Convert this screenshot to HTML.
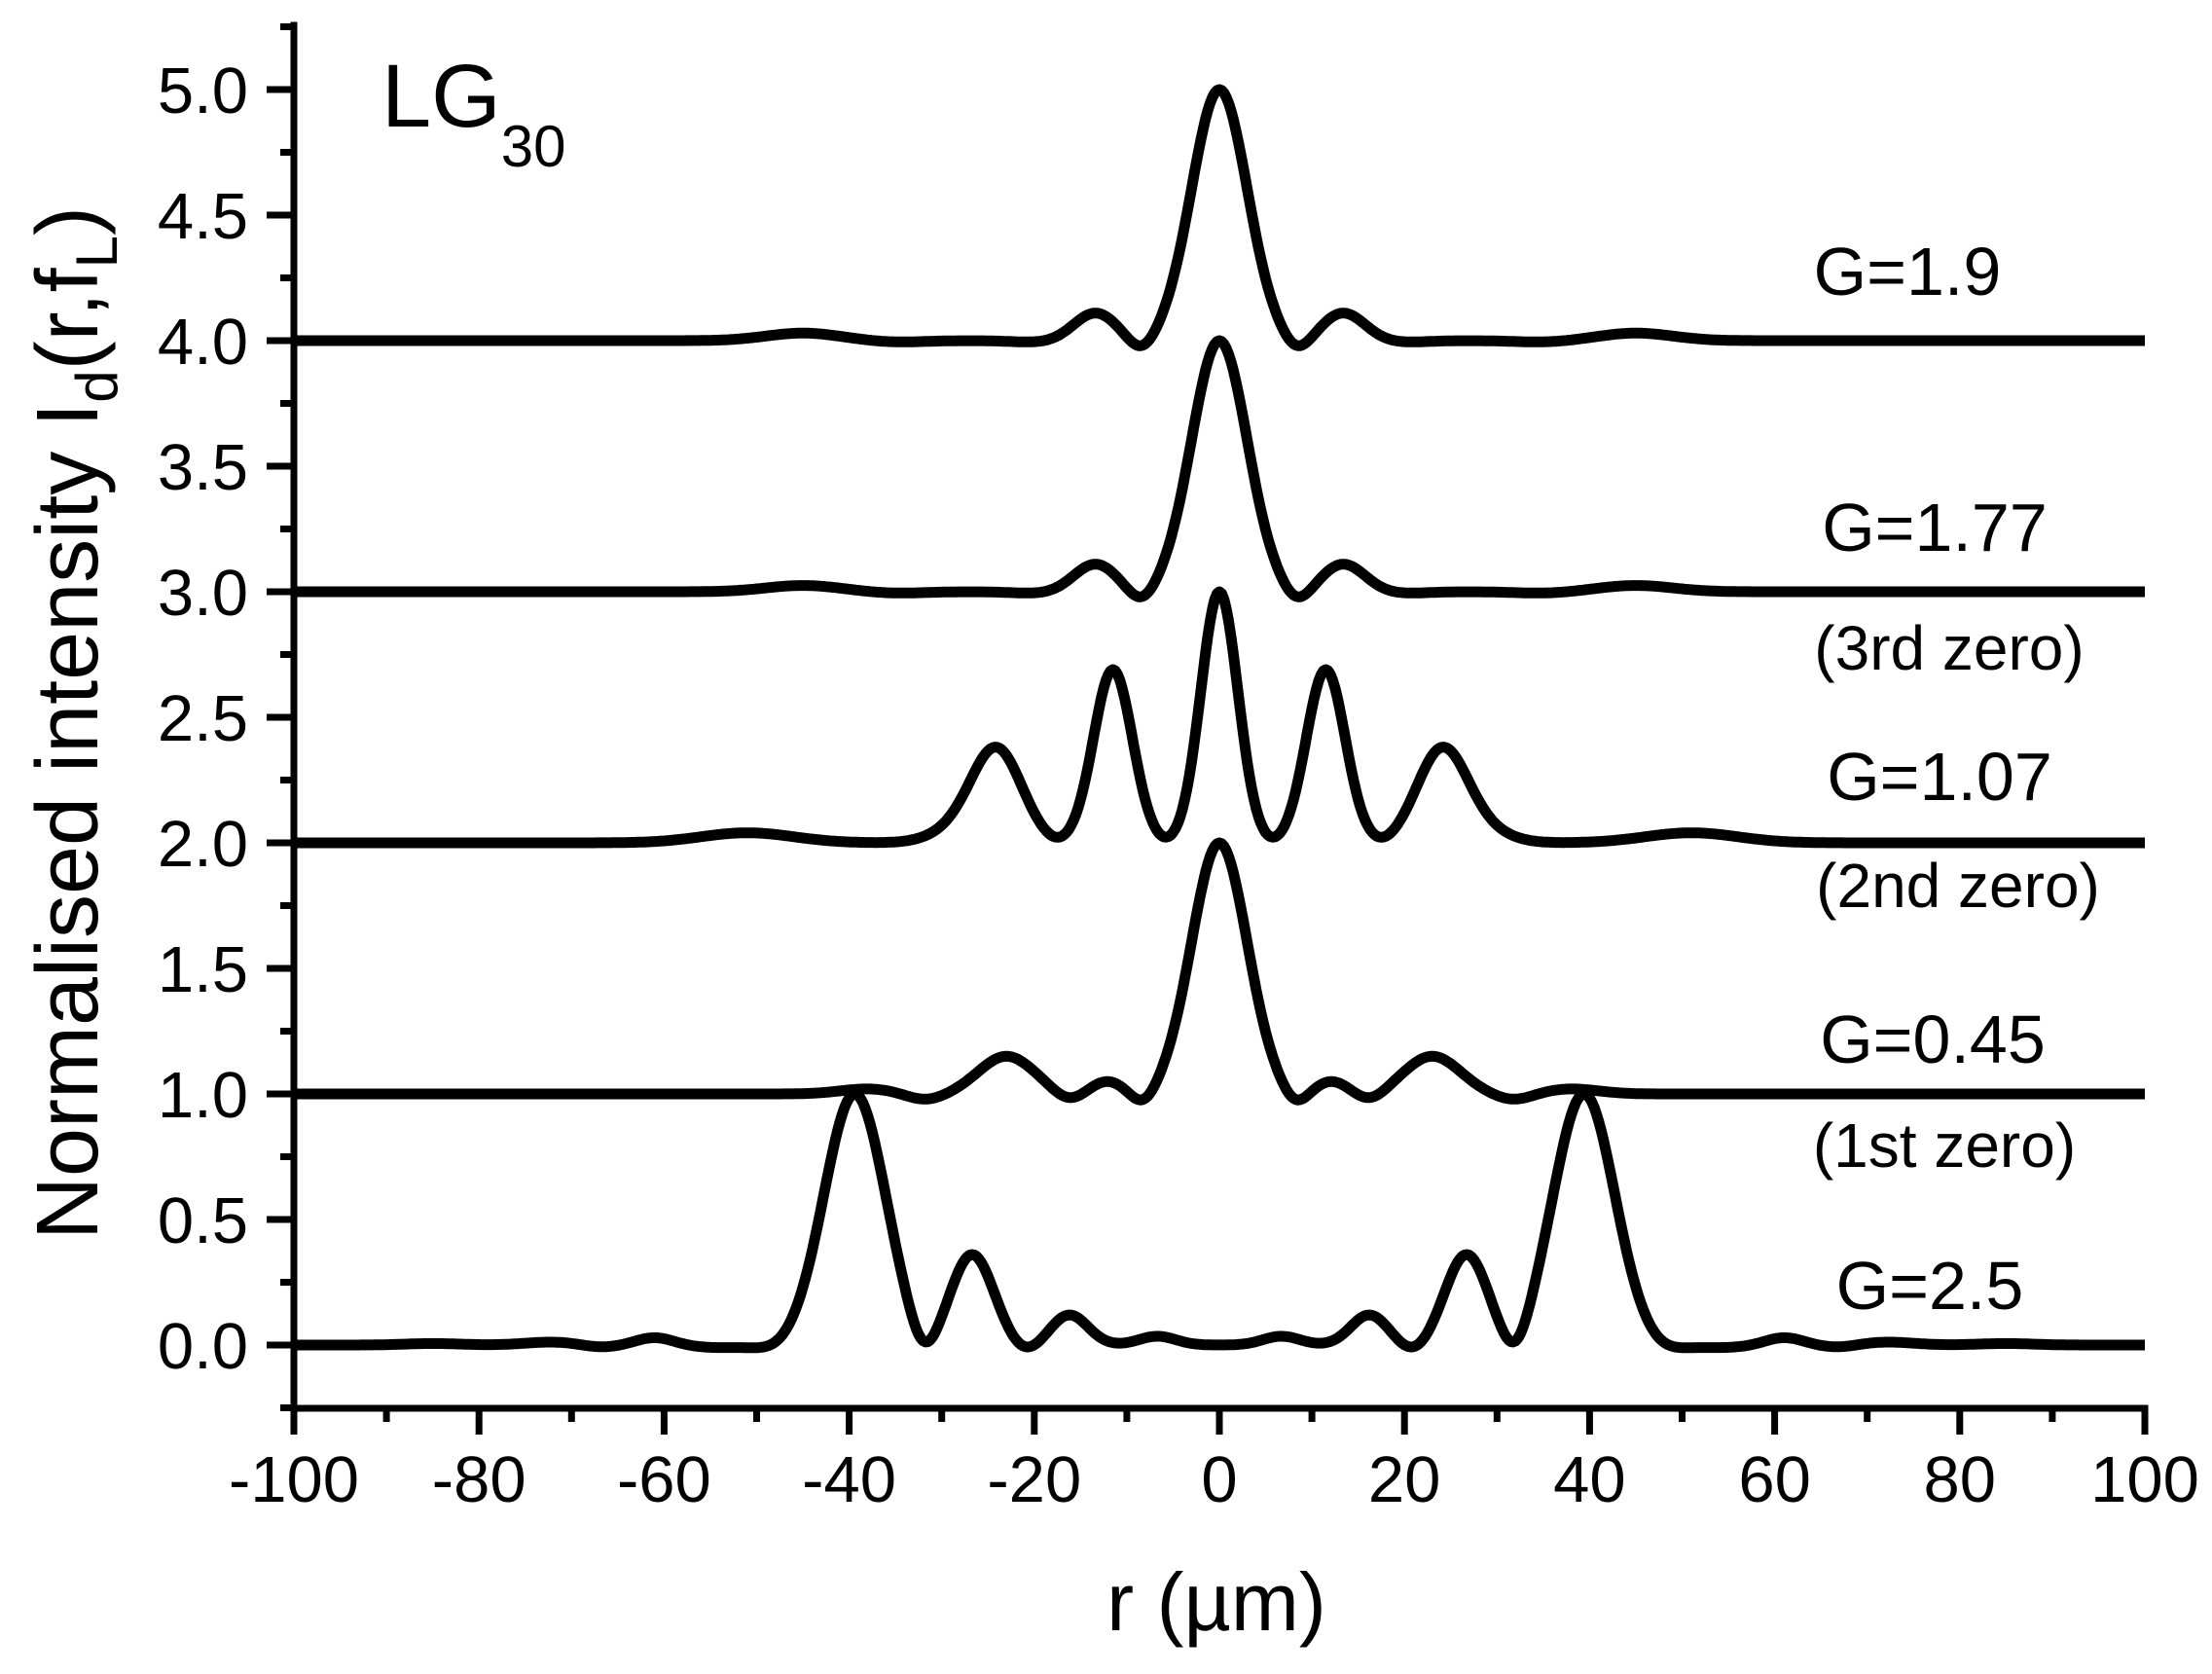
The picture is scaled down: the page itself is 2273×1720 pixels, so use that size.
<!DOCTYPE html>
<html><head><meta charset="utf-8"><style>
html,body{margin:0;padding:0;background:#fff;}
svg{display:block;font-family:"Liberation Sans",Arial,sans-serif;}
</style></head><body>
<svg id="s" width="2273" height="1720" viewBox="0 0 2273 1720" xmlns="http://www.w3.org/2000/svg">
<g id="ax" stroke="#000" stroke-width="7" fill="none"></g>
<g id="curves" stroke="#000" stroke-width="11" fill="none" stroke-linejoin="round"></g>
<g id="lbl" fill="#000"></g>
<text x="1250" y="1675" font-size="84" text-anchor="middle">r (µm)</text>
<text transform="translate(100,743) rotate(-90)" font-size="90" text-anchor="middle">Normalised intensity I<tspan font-size="60" dy="20">d</tspan><tspan dy="-20">(r,f</tspan><tspan font-size="60" dy="20">L</tspan><tspan dy="-20">)</tspan></text>
<text x="392" y="130" font-size="92">LG<tspan font-size="60" dy="41">30</tspan></text>
<g font-size="70" text-anchor="middle">
<text x="1960" y="303">G=1.9</text>
<text x="1988" y="566">G=1.77</text>
<text x="2003" y="688" font-size="64">(3rd zero)</text>
<text x="1993" y="822">G=1.07</text>
<text x="2012" y="932" font-size="64">(2nd zero)</text>
<text x="1986" y="1092">G=0.45</text>
<text x="1998" y="1199" font-size="64">(1st zero)</text>
<text x="1983" y="1345">G=2.5</text>
</g>
</svg>
<script>
var X0=302,X1=2204,Y0=1382,PY=258,PX=(X1-X0)/200;
function sx(r){return X0+(r+100)*PX;}
function sy(v){return Y0-v*PY;}
var ns="http://www.w3.org/2000/svg";
function el(p,t,a){var e=document.createElementNS(ns,t);for(var k in a)e.setAttribute(k,a[k]);p.appendChild(e);return e;}
var ax=document.getElementById('ax'),lbl=document.getElementById('lbl');
el(ax,'path',{d:'M302,26 V1447 H2204',"stroke-linecap":"square"});
for(var r=-100;r<=100;r+=10){var maj=(r%20===0);var x=sx(r);
 el(ax,'line',{x1:x,y1:1447,x2:x,y2:maj?1474:1461});
 if(maj){var t=el(lbl,'text',{x:x,y:1543,"font-size":67,"text-anchor":"middle"});t.textContent=String(r);}}
for(var i=-1;i<=21;i++){var v=i*0.25;var y=sy(v);if(y<26||y>1447)continue;var maj=(i%2===0);
 el(ax,'line',{x1:302,y1:y,x2:maj?274:288,y2:y});
 if(maj&&v>=0){var t=el(lbl,'text',{x:255,y:y+24,"font-size":67,"text-anchor":"end"});t.textContent=v.toFixed(1);}}
function sym(list){var o=[];list.forEach(function(c){o.push(c);if(c[0]!==0)o.push([-c[0],c[1],c[2]]);});return o;}
var curves=[
 [4,sym([[0,1,3.0],[13.4,0.11,2.3],[8.4,-0.05,1.4],[45,0.03,4],[20,-0.006,2.5],[35,-0.006,3]])],
 [3,sym([[0,1,3.0],[13.4,0.11,2.3],[8.4,-0.05,1.4],[45,0.025,4],[20,-0.006,2.5],[35,-0.006,3]])],
 [2,sym([[0,1,2.0],[11.5,0.69,2.1],[24,0.36,2.7],[28,0.05,3],[51,0.04,5],[17.8,-0.01,1.2],[5.8,-0.01,1.2]])],
 [1,sym([[0,1,3.0],[23,0.15,3],[12.1,0.05,1.8],[8.2,-0.05,1.3],[16.3,-0.03,1.5],[31.8,-0.025,2],[38,0.02,3]])],
 [0,sym([[39.4,1,3.3],[26.7,0.36,2.3],[16.2,0.12,2.0],[6.7,0.035,2],[32,-0.09,1.4],[21,-0.03,1.5],[48,-0.02,2],[61,0.03,2],[72,0.012,3],[54,-0.01,3],[67,-0.01,2],[85,0.006,3]])]
];
var cg=document.getElementById('curves');
curves.forEach(function(c){var d='';for(var r=-100;r<=100.001;r+=0.25){var v=c[0];
 c[1].forEach(function(g){v+=g[1]*Math.exp(-(r-g[0])*(r-g[0])/(2*g[2]*g[2]));});
 d+=(d?'L':'M')+sx(r).toFixed(1)+','+sy(v).toFixed(1);}
 el(cg,'path',{d:d});});
</script>
</body></html>
